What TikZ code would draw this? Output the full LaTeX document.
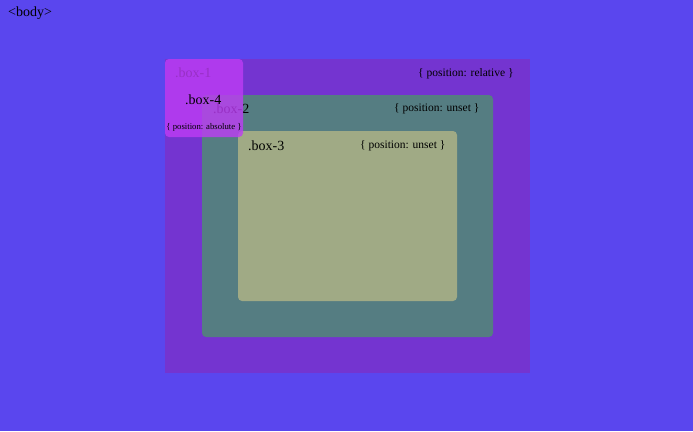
\documentclass[tikz,border=0pt]{standalone}
\usepackage{fontspec}
\setmainfont{Liberation Serif}
\usepackage{xcolor}

\definecolor{pagebg}{RGB}{90,70,238}
\definecolor{boxone}{RGB}{116,52,208}
\definecolor{boxtwo}{RGB}{85,125,130}
\definecolor{boxthree}{RGB}{160,170,133}
\definecolor{boxfour}{RGB}{190,60,245}

\begin{document}
\begin{tikzpicture}[x=1pt, y=-1pt,
    box/.style = {draw=none, inner sep=0pt, outer sep=0pt},
    tag/.style = {inner sep=0pt, anchor=west, font=\fontsize{14}{14}\selectfont},
    note/.style = {inner sep=0pt, anchor=west, font=\fontsize{11.5}{12}\selectfont}]
  %%% page %%%
  \fill[pagebg] (0,0) rectangle (693,431);
  \useasboundingbox (0,0) rectangle (693,431);
  \node[tag] (body) at (8,13) {<body>};

  %%% nested boxes %%%
  % box 1
  \node[box, fill=boxone, minimum width=365pt, minimum height=314pt] (box1) at (347.5,216) {};
  \node[tag] (box1name) at (175,73) {.box-1};
  \node[note] (box1pos) at (418,74) {\{ position: relative \}};
  % box 2
  \node[box, fill=boxtwo, rounded corners=4pt, minimum width=291pt, minimum height=242pt] (box2) at (347.5,216) {};
  \node[tag] (box2name) at (213,109) {.box-2};
  \node[note] (box2pos) at (394,109) {\{ position: unset \}};
  % box 3
  \node[box, fill=boxthree, rounded corners=4pt, minimum width=219pt, minimum height=170pt] (box3) at (347.5,216) {};
  \node[tag] (box3name) at (248,146) {.box-3};
  \node[note] (box3pos) at (360,146) {\{ position: unset \}};
  % box 4 (on top)
  \node[box, fill=boxfour, fill opacity=0.8, rounded corners=4pt, minimum width=78pt, minimum height=78pt] (box4) at (204,98) {};
  \node[tag] (box4name) at (185,100) {.box-4};
  \node[inner sep=0pt, font=\fontsize{8.7}{9}\selectfont] (box4pos) at (204,127) {\{ position: absolute \}};
\end{tikzpicture}
\end{document}
